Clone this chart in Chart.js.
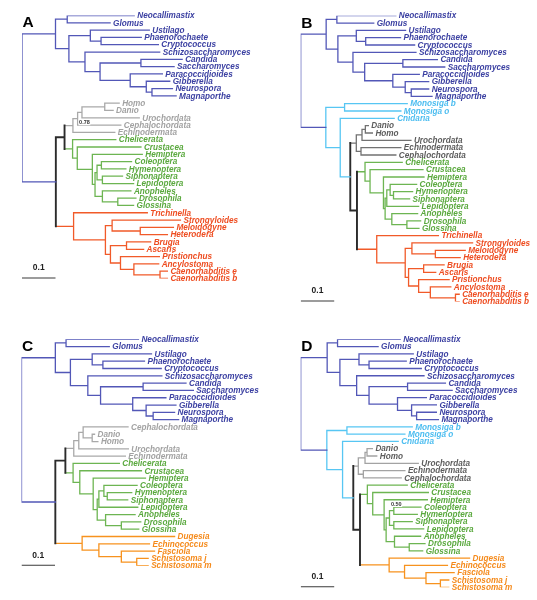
<!DOCTYPE html>
<html>
<head>
<meta charset="utf-8">
<script src="https://cdn.jsdelivr.net/npm/chart.js@4.4.1/dist/chart.umd.min.js"></script>
<style>
  html, body { margin: 0; padding: 0; background: #fff; }
  #wrap { position: relative; width: 537px; height: 600px; }
  #wrap canvas { position: absolute; left: 0; top: 0; }
</style>
</head>
<body>
<div id="wrap">
  <canvas id="panelA" width="537" height="600"></canvas>
  <canvas id="panelB" width="537" height="600"></canvas>
  <canvas id="panelC" width="537" height="600"></canvas>
  <canvas id="panelD" width="537" height="600"></canvas>
</div>
<script>
// taxon groups (colour classes)
const fungi = ['Neocallimastix', 'Glomus', 'Ustilago', 'Phaenorochaete', 'Cryptococcus', 'Schizosaccharomyces',
  'Candida', 'Saccharomyces', 'Paracoccidioides', 'Gibberella', 'Neurospora', 'Magnaporthe'];
const choanozoa = ['Monosiga b', 'Monosiga o', 'Cnidaria'];
const deuterostomes = ['Homo', 'Danio', 'Urochordata', 'Cephalochordata', 'Echinodermata'];
const arthropods = ['Chelicerata', 'Crustacea', 'Hemiptera', 'Coleoptera', 'Hymenoptera', 'Siphonaptera',
  'Lepidoptera', 'Anopheles', 'Drosophila', 'Glossina'];
const nematodes = ['Trichinella', 'Strongyloides', 'Meloidogyne', 'Heterodera', 'Brugia', 'Ascaris',
  'Pristionchus', 'Ancylostoma', 'Caenorhabditis e', 'Caenorhabditis b'];
const flatworms = ['Dugesia', 'Echinococcus', 'Fasciola', 'Schistosoma j', 'Schistosoma m'];

// branch lengths (newick), substitutions per site
const fungiA = '((Neocallimastix:0.200,Glomus:0.128):0.035,((Ustilago:0.176,(Phaenorochaete:0.120,Cryptococcus:0.171):0.032):0.064,(Schizosaccharomyces:0.223,((Candida:0.123,Saccharomyces:0.099):0.122,(Paracoccidioides:0.096,(Gibberella:0.070,(Neurospora:0.061,Magnaporthe:0.072):0.017):0.048):0.090):0.045):0.048):0.040)';
const deutA = '((((Homo:0.043,Danio:0.025):0.068,Urochordata:0.171):0.013,Cephalochordata:0.129)0.78:0.014,Echinodermata:0.125)';
const arthA = '(Chelicerata:0.129,(Crustacea:0.190,(Hemiptera:0.149,(((Coleoptera:0.090,Hymenoptera:0.073):0.013,(Siphonaptera:0.060,Lepidoptera:0.093):0.016):0.006,(Anopheles:0.085,(Drosophila:0.054,Glossina:0.047):0.046):0.022):0.008):0.045):0.014)';
const nemA = '(Trichinella:0.220,((Strongyloides:0.204,(Meloidogyne:0.099,Heterodera:0.081):0.084):0.020,((Brugia:0.072,Ascaris:0.051):0.048,(Pristionchus:0.116,(Ancylostoma:0.074,(Caenorhabditis e:0.022,Caenorhabditis b:0.022):0.078):0.040):0.030):0.015):0.095)';
const treeA = `(${fungiA}:0.100,((${deutA}:0.025,${arthA}:0.024):0.026,${nemA}:0.053):0.101)`;

const fungiB = '((Neocallimastix:0.176,Glomus:0.110):0.032,((Ustilago:0.147,(Phaenorochaete:0.104,Cryptococcus:0.146):0.028):0.055,(Schizosaccharomyces:0.188,((Candida:0.103,Saccharomyces:0.125):0.114,(Paracoccidioides:0.079,(Gibberella:0.070,(Neurospora:0.052,Magnaporthe:0.062):0.018):0.037):0.084):0.035):0.045):0.035)';
const deutB = '(((Danio:0.009,Homo:0.021):0.010,Urochordata:0.146):0.017,(Echinodermata:0.119,Cephalochordata:0.104):0.014)';
const arthB = '(Chelicerata:0.111,(Crustacea:0.158,(Hemiptera:0.121,(((Coleoptera:0.079,(Hymenoptera:0.057,Siphonaptera:0.048):0.010):0.010,Lepidoptera:0.095):0.005,(Anopheles:0.077,(Drosophila:0.041,Glossina:0.036):0.045):0.020):0.005):0.040):0.015)';
const nemB = '(Trichinella:0.184,((Strongyloides:0.181,(Meloidogyne:0.089,Heterodera:0.074):0.070):0.020,((Brugia:0.061,Ascaris:0.036):0.045,(Pristionchus:0.091,(Ancylostoma:0.061,(Caenorhabditis e:0.011,Caenorhabditis b:0.011):0.075):0.035):0.030):0.010):0.085)';
const treeB = `(${fungiB}:0.076,((Monosiga b:0.187,Monosiga o:0.168):0.056,(Cnidaria:0.161,(${deutB}:0.018,(${arthB}:0.024,${nemB}:0.059):0.020):0.030):0.043):0.075)`;

const fungiC = '((Neocallimastix:0.216,Glomus:0.129):0.032,((Ustilago:0.177,(Phaenorochaete:0.124,Cryptococcus:0.174):0.032):0.065,(Schizosaccharomyces:0.221,((Candida:0.128,Saccharomyces:0.150):0.127,(Paracoccidioides:0.099,(Gibberella:0.089,(Neurospora:0.064,Magnaporthe:0.076):0.021):0.040):0.096):0.038):0.052):0.045)';
const deutC = '(((Cephalochordata:0.134,(Danio:0.007,Homo:0.017):0.027):0.013,Urochordata:0.148):0.015,Echinodermata:0.154)';
const arthC = '(Chelicerata:0.138,(Crustacea:0.184,(Hemiptera:0.156,(((Coleoptera:0.099,(Hymenoptera:0.073,Siphonaptera:0.061):0.010):0.015,Lepidoptera:0.116):0.005,(Anopheles:0.088,(Drosophila:0.058,Glossina:0.052):0.047):0.025):0.012):0.040):0.020)';
const flatC = '(Dugesia:0.276,(Echinococcus:0.151,(Fasciola:0.099,(Schistosoma j:0.034,Schistosoma m:0.034):0.046):0.067):0.050)';
const treeC = `(${fungiC}:0.101,((${deutC}:0.025,${arthC}:0.023):0.030,${flatC}:0.080):0.101)`;

const fungiD = '((Neocallimastix:0.187,Glomus:0.121):0.031,((Ustilago:0.162,(Phaenorochaete:0.111,Cryptococcus:0.156):0.030):0.057,(Schizosaccharomyces:0.201,((Candida:0.113,Saccharomyces:0.133):0.115,(Paracoccidioides:0.086,(Gibberella:0.074,(Neurospora:0.059,Magnaporthe:0.065):0.015):0.042):0.085):0.037):0.050):0.038)';
const deutD = '(((Danio:0.016,Homo:0.029):0.006,Urochordata:0.159):0.020,(Echinodermata:0.124,Cephalochordata:0.113):0.015)';
const arthD = '(Chelicerata:0.119,(Crustacea:0.166,(Hemiptera:0.129,(((Coleoptera:0.081,Hymenoptera:0.070):0.013,(Siphonaptera:0.055,Lepidoptera:0.089):0.013)0.50:0.010,(Anopheles:0.078,(Drosophila:0.047,Glossina:0.040):0.044):0.025):0.006):0.034):0.016)';
const flatD = '(Dugesia:0.240,(Echinococcus:0.128,(Fasciola:0.084,(Schistosoma j:0.025,Schistosoma m:0.025):0.043):0.064):0.046)';
const treeD = `(${fungiD}:0.079,((Monosiga b:0.195,Monosiga o:0.173):0.060,(Cnidaria:0.166,(${deutD}:0.015,(${arthD}:0.022,${flatD}:0.087):0.020):0.032):0.047):0.078)`;

const scaleBar = 0.1;

// drawing setup
const UNIT_PX = 335;
const XMAX = 0.7;
const BLACK = '#2b2b2b';
const FONT = '"Liberation Sans", Arial, Helvetica, sans-serif';
const groups = { fungi, choanozoa, deuterostomes, arthropods, nematodes, flatworms };
const lineColors = { fungi: '#5257b7', choanozoa: '#57c6f3', arthropods: '#6db552', nematodes: '#f15a29', flatworms: '#f7921e' };
const textColors = { fungi: '#3c41a2', choanozoa: '#4cbdf0', arthropods: '#5ba93f', nematodes: '#ee4d21', flatworms: '#f58a1b' };

const panels = [
  { id: 'panelA', letter: 'A', tree: treeA, rootX: 22, top: 15.5, bottom: 278.5, deutLine: '#a9a9a9', deutText: '#a2a2a2', supportDy: 3.5 },
  { id: 'panelB', letter: 'B', tree: treeB, rootX: 300.7, top: 15.7, bottom: 301.6, deutLine: '#727272', deutText: '#5c5c5c' },
  { id: 'panelC', letter: 'C', tree: treeC, rootX: 21.5, top: 339.3, bottom: 565.7, deutLine: '#a9a9a9', deutText: '#a2a2a2' },
  { id: 'panelD', letter: 'D', tree: treeD, rootX: 300.7, top: 339.3, bottom: 587.3, deutLine: '#a3a3a3', deutText: '#5c5c5c', supportDy: -14 }
];

function parseNewick(s) {
  let i = 0;
  function node() {
    const n = { children: [], name: '', len: 0 };
    if (s[i] === '(') {
      i++;
      n.children.push(node());
      while (s[i] === ',') { i++; n.children.push(node()); }
      i++;
    }
    let name = '';
    while (i < s.length && !',():;'.includes(s[i])) name += s[i++];
    n.name = name.trim();
    if (s[i] === ':') {
      i++;
      let num = '';
      while (i < s.length && !',();'.includes(s[i])) num += s[i++];
      n.len = parseFloat(num);
    }
    return n;
  }
  return node();
}

function groupOf(name) {
  return Object.keys(groups).find(g => groups[g].includes(name));
}

function drawPanel(p) {
  const root = parseNewick(p.tree);
  const leaves = [];
  const inner = [];
  function walk(n, x0, parent) {
    n.x = x0 + n.len;
    n.parent = parent;
    if (!n.children.length) {
      n.row = leaves.length;
      leaves.push(n);
      n.groups = new Set([groupOf(n.name)]);
    } else {
      inner.push(n);
      n.groups = new Set();
      n.children.forEach(c => { walk(c, n.x, n); c.groups.forEach(g => n.groups.add(g)); });
      n.row = (n.children[0].row + n.children[n.children.length - 1].row) / 2;
    }
  }
  walk(root, 0, null);
  const last = leaves.length - 1;

  const lineOf = g => g === 'deuterostomes' ? p.deutLine : lineColors[g];
  function vColor(n) {
    if (n.groups.size === 1) return lineOf([...n.groups][0]);
    if (!n.parent) return lineColors.fungi;
    if (n.groups.has('choanozoa')) return lineColors.choanozoa;
    return BLACK;
  }
  function hColor(n) {
    return n.groups.size === 1 ? lineOf([...n.groups][0]) : vColor(n.parent);
  }

  const segs = {};
  const add = (c, a, b) => { (segs[c] = segs[c] || []).push(a, b, { x: null, y: null }); };
  (function emit(n) {
    if (n.parent) add(hColor(n), { x: n.parent.x, y: n.row }, { x: n.x, y: n.row });
    if (n.children.length) {
      add(vColor(n), { x: n.x, y: n.children[0].row }, { x: n.x, y: n.children[n.children.length - 1].row });
      n.children.forEach(emit);
    }
  })(root);

  const datasets = Object.keys(segs).map(c => ({
    data: segs[c],
    borderColor: c,
    borderWidth: c === BLACK ? 1.9 : 1.3,
    borderCapStyle: 'square',
    showLine: true,
    pointRadius: 0,
    spanGaps: false
  }));
  datasets.push({
    data: [{ x: 0, y: last }, { x: scaleBar, y: last }],
    borderColor: '#3a3a3a',
    borderWidth: 2,
    showLine: true,
    pointRadius: 0
  });

  const support = inner.filter(n => n.name);

  const treeText = {
    id: 'treeText',
    afterDraw(chart) {
      const ctx = chart.ctx;
      const xs = chart.scales.x, ys = chart.scales.y;
      ctx.save();
      ctx.textBaseline = 'middle';
      ctx.textAlign = 'left';
      ctx.font = 'italic bold 8.2px ' + FONT;
      leaves.forEach(l => {
        const g = [...l.groups][0];
        ctx.fillStyle = g === 'deuterostomes' ? p.deutText : textColors[g];
        ctx.fillText(l.name, xs.getPixelForValue(l.x) + 3, ys.getPixelForValue(l.row) + 0.5);
      });
      ctx.font = 'bold 5.5px ' + FONT;
      support.forEach(n => {
        const px = xs.getPixelForValue(n.x) + 1.5;
        const py = ys.getPixelForValue(n.row) + (p.supportDy || 0);
        const w = ctx.measureText(n.name).width;
        ctx.fillStyle = '#fff';
        ctx.fillRect(px - 0.5, py - 3, w + 1, 6);
        ctx.fillStyle = '#333';
        ctx.fillText(n.name, px, py);
      });
      ctx.font = 'bold 8.5px ' + FONT;
      ctx.fillStyle = '#222';
      ctx.textAlign = 'center';
      ctx.fillText(String(scaleBar), xs.getPixelForValue(scaleBar / 2), ys.getPixelForValue(last) - 10.5);
      ctx.font = 'bold 15.5px ' + FONT;
      ctx.fillStyle = '#000';
      ctx.textAlign = 'left';
      ctx.textBaseline = 'alphabetic';
      ctx.fillText(p.letter, xs.getPixelForValue(0) + 0.5, ys.getPixelForValue(0) + 11.8);
      ctx.restore();
    }
  };

  new Chart(document.getElementById(p.id), {
    type: 'scatter',
    data: { datasets },
    options: {
      responsive: false,
      animation: false,
      devicePixelRatio: 1,
      events: [],
      layout: {
        padding: {
          left: p.rootX,
          right: 537 - p.rootX - XMAX * UNIT_PX,
          top: p.top,
          bottom: 600 - p.bottom
        }
      },
      plugins: { legend: { display: false }, tooltip: { enabled: false } },
      scales: {
        x: { type: 'linear', display: false, min: 0, max: XMAX },
        y: { type: 'linear', display: false, min: 0, max: last, reverse: true }
      }
    },
    plugins: [treeText]
  });
}

panels.forEach(drawPanel);
</script>
</body>
</html>
